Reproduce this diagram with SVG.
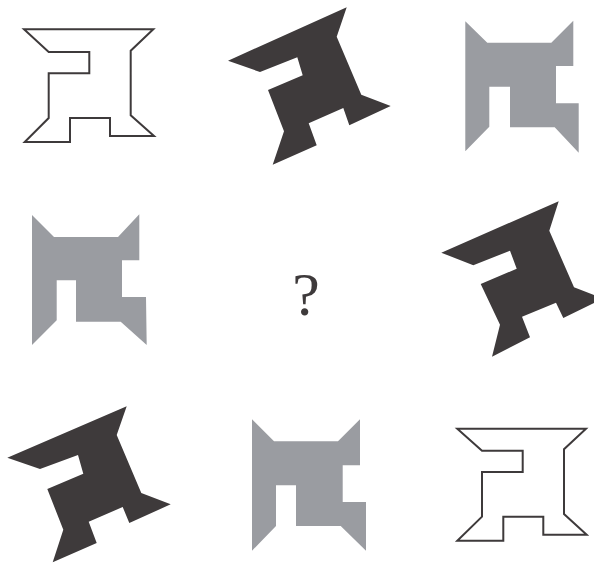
<svg xmlns="http://www.w3.org/2000/svg" width="594" height="565" viewBox="0 0 594 565">
<style>
.outline{fill:#ffffff;stroke:#3e3a3b;stroke-width:2;stroke-linejoin:miter}
.dark{fill:#3e3a3b}
.gray{fill:#9a9ca1}
.q{font-family:"Liberation Serif","DejaVu Serif",serif;font-size:62px;fill:#3e3a3b}
</style>
<rect width="594" height="565" fill="#ffffff"/>
<g id="shape-r1c1">
<polygon class="outline" points="24,29.3 153.3,29.3 130.7,50.7 130.7,115.3 154,136 110,136 110,118 70,118 70,142 24.7,142 48.7,118 48.7,73.3 89.3,73.3 89.3,52 48.7,52"/>
</g>
<g id="shape-r1c2">
<polygon class="dark" points="228,60.7 346.7,7.3 336.7,36.7 361.3,94.7 390.7,106 349.3,125.3 343.3,108 308.7,123.3 316.7,145.3 272.7,164.7 284,131.3 268,90 302.7,75.3 297.3,57.3 260,72"/>
</g>
<g id="shape-r1c3">
<polygon class="gray" points="465.3,21.3 487.3,42.7 551.3,42.7 573.3,20.7 573.3,66 556,66 556,103.3 578.7,103.3 578.7,152.7 554.7,127.3 510,127.3 510,86.7 489.3,86.7 489.3,126.7 465.3,151.3"/>
</g>
<g id="shape-r2c1">
<polygon class="gray" points="32,215 54,237 118,237 139.3,214.3 139.3,260.3 122,260.3 122,297 146,297 146.7,345 120.7,321.7 76,321.7 76,280.3 56.7,280.3 56.7,320.3 32,345"/>
</g>
<g id="question">
<text class="q" x="306" y="315" text-anchor="middle">?</text>
</g>
<g id="shape-r2c3">
<polygon class="dark" points="441.3,252.7 558.7,201.3 549.3,230.7 574,287.3 603,298.5 563.3,318 556,302.7 522,316.7 530,337.3 492,356.7 500,324.7 480.7,284 516.7,268.7 510,250.7 473.3,265.3"/>
</g>
<g id="shape-r3c1">
<polygon class="dark" points="7.3,457.7 126.7,406.3 116.7,435 141.3,493 170.7,504.3 129.3,523 122.7,507 88.7,521.7 96.7,543 52.7,562.3 63.3,529.7 47.3,489 83.3,473.7 78,455 40,469"/>
</g>
<g id="shape-r3c2">
<polygon class="gray" points="252,419.3 274,441.3 338,441.3 360,419.3 360,465.3 342.7,465.3 342.7,502 366,502 366,550.7 340.7,526 296,526 296,485.3 276,485.3 276,526 252,550.7"/>
</g>
<g id="shape-r3c3">
<polygon class="outline" points="457.3,428.7 586,428.7 564,449.3 564,514 586.7,534.7 543.3,534.7 543.3,516.7 503.3,516.7 503.3,540.7 457.3,540.7 482,516.7 482,472 522.7,472 522.7,450.7 482,450.7"/>
</g>
<g id="connectors"></g>
</svg>
